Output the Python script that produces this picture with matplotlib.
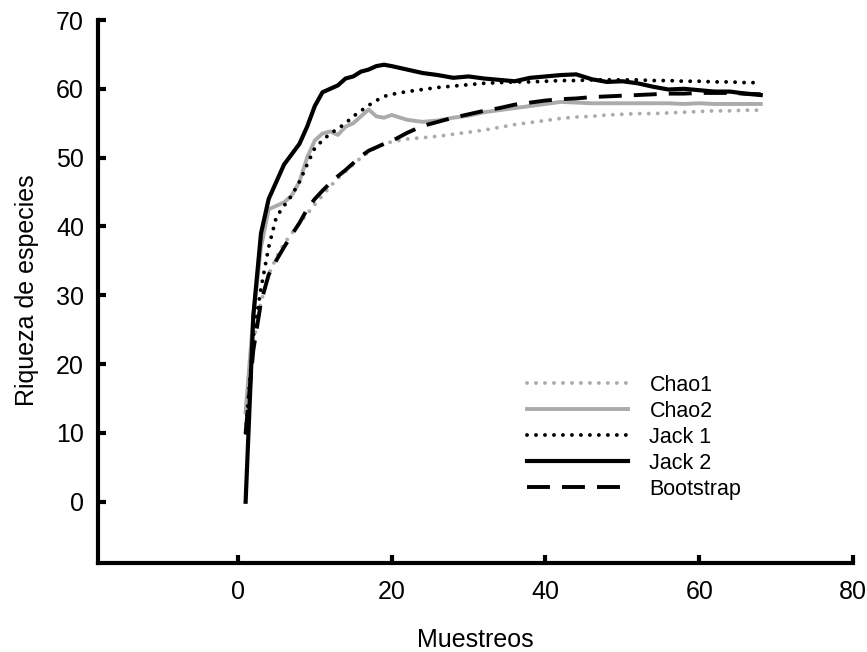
import matplotlib
matplotlib.use("Agg")
import matplotlib.pyplot as plt

plt.rcParams['font.family'] = ['Liberation Sans', 'DejaVu Sans']

# samples (Muestreos)
muestreos = list(range(1, 21)) + list(range(22, 69, 2))

chao1 = [13, 23, 29, 33, 35.5, 37.5, 39, 40.5, 41.8, 43.2, 44.5, 45.8, 47, 48, 49, 50, 50.8, 51.5, 52, 52.3,
         52.7, 52.9, 53.1, 53.4, 53.7, 54, 54.4, 54.8, 55.1, 55.4, 55.7, 55.9, 56, 56.2, 56.3, 56.4, 56.4, 56.5,
         56.6, 56.7, 56.8, 56.8, 56.9, 56.9]
chao2 = [13, 27, 37, 42.5, 43, 43.5, 44.5, 46.5, 50, 52.5, 53.5, 53.8, 53.3, 54.5, 55, 56, 57, 56, 55.8, 56.2,
         55.5, 55.2, 55.4, 55.8, 56.1, 56.6, 56.9, 57.2, 57.5, 57.8, 58.1, 58, 57.9, 57.9, 57.9, 57.9, 57.9, 57.9,
         57.8, 57.9, 57.8, 57.8, 57.8, 57.8]
jack1 = [10, 24, 31, 37, 41.4, 43, 44.5, 46.5, 49, 51.4, 52.5, 53.5, 54.2, 55, 56, 56.8, 57.6, 58.3, 58.9, 59.2,
         59.6, 59.9, 60.2, 60.4, 60.6, 60.8, 60.9, 61, 61, 61.1, 61.2, 61.2, 61.3, 61.3, 61.3, 61.3, 61.2, 61.2,
         61.1, 61.1, 61, 61, 60.9, 60.9]
jack2 = [0, 27, 39, 44, 46.5, 49, 50.5, 52, 54.5, 57.5, 59.5, 60, 60.5, 61.5, 61.8, 62.5, 62.8, 63.3, 63.5, 63.3,
         62.8, 62.3, 62, 61.6, 61.8, 61.5, 61.3, 61.1, 61.6, 61.8, 62, 62.1, 61.4, 61.0, 61.1, 60.8, 60.3, 59.9,
         60, 59.8, 59.6, 59.6, 59.3, 59.1]
bootstrap = [10, 22, 29, 33, 35.1, 37, 38.8, 40.5, 42.5, 44, 45.2, 46.3, 47.3, 48.2, 49.2, 50.2, 51, 51.5, 52, 52.4,
             53.6, 54.6, 55.2, 55.8, 56.3, 56.8, 57.2, 57.7, 58, 58.3, 58.5, 58.6, 58.8, 58.9, 59, 59.1, 59.2, 59.3,
             59.3, 59.4, 59.4, 59.4, 59.3, 59.2]

grey = '#ababab'
lw = 2.8
dots = (0, (0.01, 2.3))
dash = (0, (5.9, 3.1))

fig = plt.figure(figsize=(8.67, 6.52), dpi=100)
ax = fig.add_axes([98 / 867, 1 - 563 / 652, 755 / 867, 543 / 652])

ax.plot(muestreos, chao1, color=grey, lw=lw, linestyle=dots, dash_capstyle='round', label='Chao1')
ax.plot(muestreos, chao2, color=grey, lw=lw, label='Chao2')
ax.plot(muestreos, jack1, color='black', lw=lw, linestyle=dots, dash_capstyle='round', label='Jack 1')
ax.plot(muestreos, jack2, color='black', lw=lw + 0.2, label='Jack 2')
ax.plot(muestreos, bootstrap, color='black', lw=lw, linestyle=dash, label='Bootstrap')

ax.set_xlim(-18.2, 80)
ax.set_ylim(-8.9, 70)
ax.set_xticks([0, 20, 40, 60, 80])
ax.set_yticks(range(0, 71, 10))

for side in ('top', 'right'):
    ax.spines[side].set_visible(False)
for side in ('left', 'bottom'):
    ax.spines[side].set_linewidth(3)
    ax.spines[side].set_capstyle('projecting')

ax.tick_params(direction='in', length=6, width=3, labelsize=18)
ax.tick_params(axis='x', pad=12)
ax.tick_params(axis='y', pad=10)

ax.set_xlabel('Muestreos', fontsize=18)
ax.set_ylabel('Riqueza de especies', fontsize=18)
ax.xaxis.set_label_coords(0.5, -0.119)
ax.yaxis.set_label_coords(-0.078, 0.503)

fig.legend(loc='upper left', bbox_to_anchor=(526.7 / 867, 1 - 375 / 652), frameon=False,
           fontsize=15.5, handlelength=4.7, handletextpad=1.0, labelspacing=0.23,
           borderpad=0, borderaxespad=0)

fig.savefig('out.png', dpi=100)
